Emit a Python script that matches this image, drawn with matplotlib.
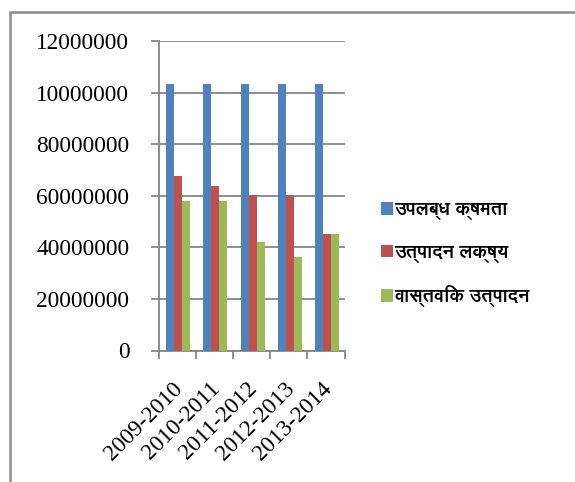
import matplotlib
matplotlib.use("Agg")
import matplotlib.pyplot as plt
from matplotlib.patches import Rectangle
import numpy as np

categories = ["2009-2010", "2010-2011", "2011-2012", "2012-2013", "2013-2014"]
series_names = ["उपलब्ध क्षमता", "उत्पादन लक्ष्य", "वास्तविक उत्पादन"]
capacity = [103500000, 103500000, 103500000, 103500000, 103500000]
target = [67500000, 63800000, 60200000, 60200000, 45300000]
actual = [57800000, 57900000, 41900000, 36300000, 45200000]
ytick_values = [0, 20000000, 40000000, 60000000, 80000000, 100000000, 120000000]
ytick_labels = ["0", "20000000", "40000000", "60000000", "80000000", "10000000", "12000000"]
colors = ["#4F81BD", "#C0504D", "#9BBB59"]

W, H = 575, 482
fig = plt.figure(figsize=(W / 100, H / 100), dpi=100)
fig.patch.set_facecolor("white")

# outer frame (partially cropped)
fig.patches.append(Rectangle((10 / W, -0.1), 1.2, (H - 11.5) / H + 0.1,
                             transform=fig.transFigure, fill=False,
                             edgecolor="#8c8c8c", linewidth=1.8))

left, right, top, bottom = 158.5, 344.7, 41, 350.5
ax = fig.add_axes([left / W, (H - bottom) / H, (right - left) / W, (bottom - top) / H])

gray = "#868686"
x = np.arange(len(categories))
bw = 0.215
for k, (vals, c) in enumerate(zip([capacity, target, actual], colors)):
    ax.bar(x + (k - 1) * bw + 0.03, vals, width=bw, color=c, zorder=3, linewidth=0)

ax.set_xlim(-0.5, len(categories) - 0.5)
ax.set_ylim(0, 120000000)
ax.set_yticks(ytick_values)
ax.set_yticklabels(ytick_labels, fontfamily="Liberation Serif", fontsize=16.8)
ax.yaxis.grid(True, color=gray, linewidth=1.3, zorder=0)
ax.set_axisbelow(True)
ax.tick_params(axis="y", length=6, width=1.3, color=gray, pad=15)

ax.set_xticks(np.arange(len(categories) + 1) - 0.5)
ax.set_xticklabels([])
ax.tick_params(axis="x", length=6, width=1.3, color=gray)

for s in ["top", "right"]:
    ax.spines[s].set_visible(False)
for s in ["left", "bottom"]:
    ax.spines[s].set_color(gray)
    ax.spines[s].set_linewidth(1.3)

for i, lab in enumerate(categories):
    ax.annotate(lab, xy=(i, 0), xycoords=("data", "axes fraction"),
                xytext=(2.5, -35), textcoords="offset pixels",
                ha="right", va="center", rotation=45, rotation_mode="anchor",
                fontfamily="Liberation Serif", fontsize=16.8)

# legend
handles = [Rectangle((0, 0), 1, 1, facecolor=c, edgecolor="none") for c in colors]
leg = fig.legend(handles, series_names, loc="upper left",
                 bbox_to_anchor=(364 / W, 1 - 183 / H), frameon=False,
                 prop={"family": ["FreeSans", "DejaVu Sans"],
                       "weight": "bold", "size": 13.5},
                 handlelength=0.65, handleheight=0.65, handletextpad=0.08,
                 labelspacing=1.2)

fig.savefig("out.png", dpi=100)
